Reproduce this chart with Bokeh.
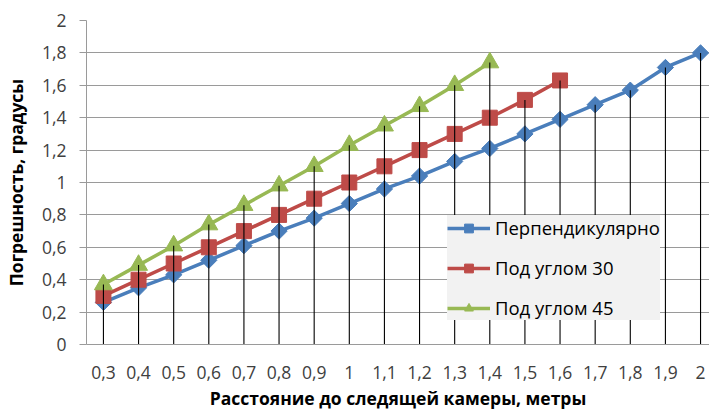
import numpy as np
from bokeh.plotting import figure
from bokeh.models import (Range1d, FixedTicker, Legend, LegendItem, ColumnDataSource)
from bokeh.embed import file_html
from bokeh.resources import INLINE

# ---- data ----
distance = [0.3, 0.4, 0.5, 0.6, 0.7, 0.8, 0.9, 1.0, 1.1, 1.2, 1.3, 1.4, 1.5, 1.6, 1.7, 1.8, 1.9, 2.0]
x_tick_labels = ["0,3", "0,4", "0,5", "0,6", "0,7", "0,8", "0,9", "1", "1,1", "1,2", "1,3", "1,4",
                 "1,5", "1,6", "1,7", "1,8", "1,9", "2"]
y_ticks = [0, 0.2, 0.4, 0.6, 0.8, 1.0, 1.2, 1.4, 1.6, 1.8, 2.0]
y_tick_labels = ["0", "0,2", "0,4", "0,6", "0,8", "1", "1,2", "1,4", "1,6", "1,8", "2"]

perp = [0.26, 0.35, 0.43, 0.52, 0.61, 0.70, 0.78, 0.87, 0.96, 1.04, 1.13, 1.21, 1.30, 1.39, 1.48, 1.57, 1.71, 1.80]
angle30 = [0.30, 0.40, 0.50, 0.60, 0.70, 0.80, 0.90, 1.00, 1.10, 1.20, 1.30, 1.40, 1.51, 1.63]
angle45 = [0.37, 0.49, 0.61, 0.74, 0.86, 0.98, 1.10, 1.23, 1.35, 1.47, 1.60, 1.74]

names = ["Перпендикулярно", "Под углом 30", "Под углом 45"]
colors = ["#4A7EBB", "#BE4B48", "#98B954"]

FONT = "Open Sans"

p = figure(width=709, height=412, output_backend="svg", toolbar_location=None,
           x_range=Range1d(0.2518, 2.0255), y_range=Range1d(0, 2.0),
           min_border_left=83, min_border_right=0, min_border_top=20, min_border_bottom=67)
p.outline_line_color = None
p.background_fill_color = "white"
p.border_fill_color = "white"

# axes
p.xaxis.ticker = FixedTicker(ticks=distance)
p.xaxis.major_label_overrides = {d: l for d, l in zip(distance, x_tick_labels)}
p.yaxis.ticker = FixedTicker(ticks=y_ticks)
p.yaxis.major_label_overrides = {t: l for t, l in zip(y_ticks, y_tick_labels)}

for ax in (p.xaxis[0], p.yaxis[0]):
    ax.major_label_text_font = FONT
    ax.major_label_text_font_size = "17.5px"
    ax.major_label_text_color = "#404040"
    ax.axis_label_text_font = FONT
    ax.axis_label_text_font_size = "17.5px"
    ax.axis_label_text_font_style = "bold"
    ax.axis_label_text_color = "#000000"
    ax.minor_tick_line_color = None
    ax.axis_line_color = "#9a9a9a"
    ax.major_tick_line_color = "#9a9a9a"

p.xaxis.axis_label = "Расстояние до следящей камеры, метры"
p.xaxis.major_tick_out = 0
p.xaxis.major_tick_in = 0
p.xaxis.major_label_standoff = 21
p.xaxis.axis_label_standoff = 4

p.yaxis.axis_label = "Погрешность, градусы"
p.yaxis.major_tick_out = 7
p.yaxis.major_tick_in = 0
p.yaxis.major_label_standoff = 13
p.yaxis.axis_label_standoff = 11

p.xgrid.grid_line_color = None
p.ygrid.grid_line_color = "#9a9a9a"
p.ygrid.grid_line_width = 1

# series
series = [perp, angle30, angle45]
markers = ["square", "square", "triangle"]
angles = [np.pi / 4, 0, 0]
sizes = [11.5, 15, 18]
items = []
for vals, name, col, mk, ang, sz in zip(series, names, colors, markers, angles, sizes):
    xs = distance[:len(vals)]
    src = ColumnDataSource(dict(x=xs, y=vals))
    ln = p.line("x", "y", source=src, line_color=col, line_width=3.5)
    sc = p.scatter("x", "y", source=src, marker=mk, angle=ang, size=sz,
                   fill_color=col, line_color=col, line_width=1)
    items.append(LegendItem(label=name, renderers=[ln, sc]))

# drop lines from the highest point of each category to the axis
tops = []
for i, d in enumerate(distance):
    tops.append(max(s[i] for s in series if i < len(s)))
p.segment(x0=distance, y0=[0] * len(distance), x1=distance, y1=tops,
          line_color="black", line_width=1.1)

legend = Legend(items=items, location=(361, 24))
legend.background_fill_color = "#f2f2f2"
legend.background_fill_alpha = 1
legend.border_line_color = None
legend.label_text_font = FONT
legend.label_text_font_size = "18.5px"
legend.label_text_color = "#000000"
legend.glyph_width = 43
legend.glyph_height = 22
legend.label_height = 22
legend.spacing = 15
legend.padding = 7
legend.margin = 0
legend.label_standoff = 5
p.add_layout(legend)

open("out.html", "w").write(file_html(p, INLINE))
